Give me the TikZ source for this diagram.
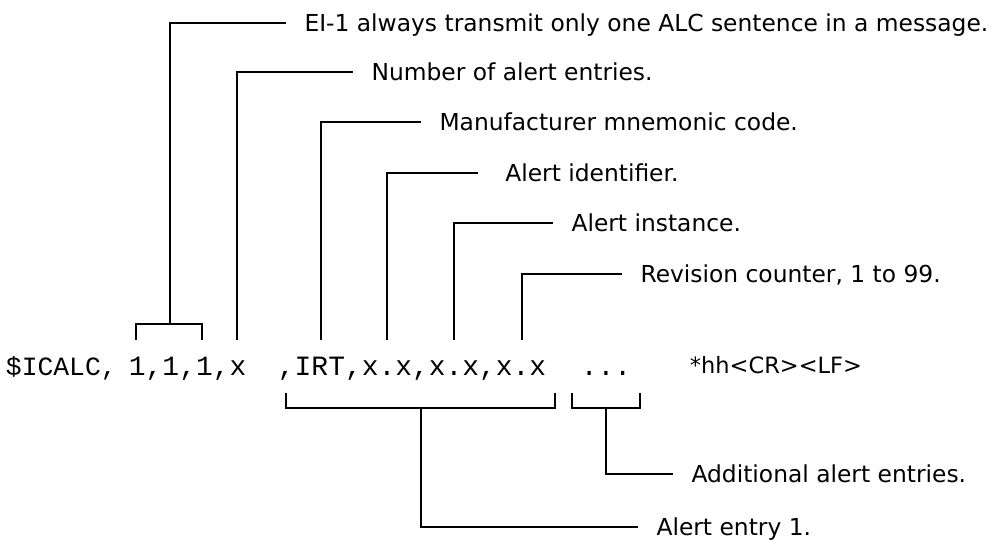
\documentclass[tikz,border=0pt]{standalone}
\usepackage{fontspec}
\setmainfont{DejaVu Sans}
\newfontfamily\codefont{Liberation Mono}
\usetikzlibrary{calc, positioning}

\begin{document}
\begin{tikzpicture}[x=0.02cm, y=-0.02cm, line width=1.1pt]
				\tikzstyle{note} = [anchor=west, inner xsep=10pt, inner ysep=0pt, text height=9.7pt, text depth=0pt, font=\fontsize{13.3}{16}\selectfont]
				\tikzstyle{code} = [anchor=base west, inner sep=0pt, font=\codefont\fontsize{15.9}{19}\selectfont]
				\tikzstyle{tail} = [anchor=base west, inner sep=0pt, font=\fontsize{12.8}{16}\selectfont]

				\useasboundingbox (0,0) rectangle (1004,539);

				% the sentence
				\node[code, font=\codefont\fontsize{15}{19}\selectfont]	at (5,375)	(c0)	{\$ICALC,};
				\node[code]				at (128,375)	(c1)	{1,1,1,x};
				\node[code]				at (277,375)	(c2)	{,IRT,x.x,x.x,x.x};
				\node[code, anchor=base]	at (606,375)	(c3)	{...};
				\node[tail]				at (689,373)	(c4)	{*hh<CR><LF>};

				% fields above
				\node[note]				at (286,23)		(t1)	{EI-1 always transmit only one ALC sentence in a message.};
				\node[note]				at (353,72)		(t2)	{Number of alert entries.};
				\node[note]				at (421,122)	(t3)	{Manufacturer mnemonic code.};
				\node[note, inner xsep=15pt]	at (478,173)	(t4)	{Alert identifier.};
				\node[note]				at (553,223)	(t5)	{Alert instance.};
				\node[note]				at (622,274)	(t6)	{Revision counter, 1 to 99.};

				% groups below
				\node[note]				at (673,474)	(t7)	{Additional alert entries.};
				\node[note]				at (638,527)	(t8)	{Alert entry 1.};

				\coordinate (a1) at (136,340);
				\coordinate (a2) at (170,324);
				\coordinate (a3) at (202,340);
				\coordinate (p2) at (237,340);
				\coordinate (p3) at (321,340);
				\coordinate (p4) at (387,340);
				\coordinate (p5) at (454,340);
				\coordinate (p6) at (522,340);
				\coordinate (e1) at (286,393);
				\coordinate (e2) at (421,408);
				\coordinate (e3) at (555,393);
				\coordinate (d1) at (572,393);
				\coordinate (d2) at (606,408);
				\coordinate (d3) at (640,393);

				\draw (a1) |- (a2) -| (a3);
				\draw (a2) |- (t1.west);
				\draw (p2) |- (t2.west);
				\draw (p3) |- (t3.west);
				\draw (p4) |- (t4.west);
				\draw (p5) |- (t5.west);
				\draw (p6) |- (t6.west);
				\draw (e1) |- (e2) -| (e3);
				\draw (e2) |- (t8.west);
				\draw (d1) |- (d2) -| (d3);
				\draw (d2) |- (t7.west);
			\end{tikzpicture}
\end{document}
